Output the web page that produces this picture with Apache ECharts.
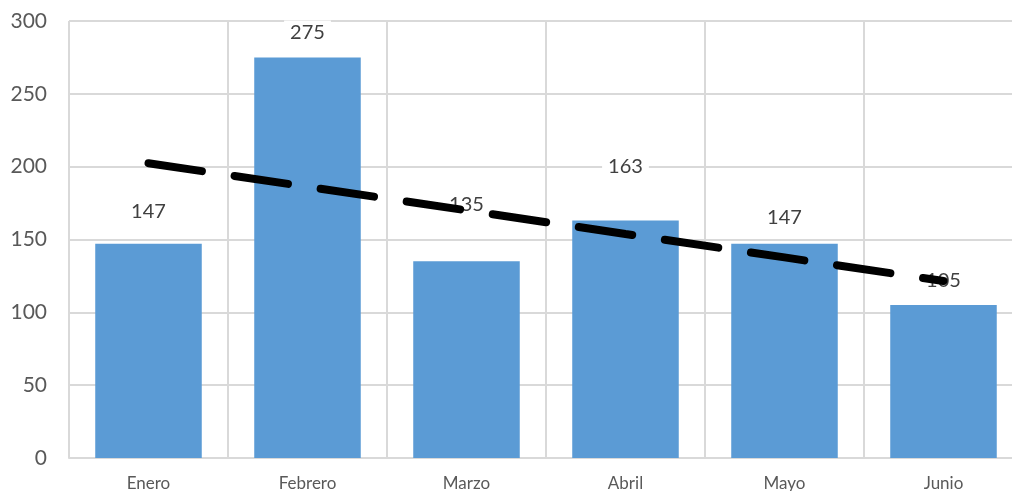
<!DOCTYPE html>
<html>
<head>
<meta charset="utf-8">
<script src="https://cdn.jsdelivr.net/npm/echarts@6/dist/echarts.min.js"></script>
<style>
  html, body { margin: 0; padding: 0; background: #fff; }
  #chart { width: 1012px; height: 491px; }
</style>
</head>
<body>
<div id="chart"></div>
<script>
const months = ['Enero', 'Febrero', 'Marzo', 'Abril', 'Mayo', 'Junio'];
const sales = [147, 275, 135, 163, 147, 105];
// linear trendline as drawn in the picture
const trend = [202.4, 186.2, 170.0, 153.8, 137.7, 121.5];
const yTicks = [0, 50, 100, 150, 200, 250, 300];

// gap between bar top and its label, varies in the original
const labelGap = [20, 13, 45, 42, 14, 13];

const chart = echarts.init(document.getElementById('chart'), null, { renderer: 'canvas' });

const font = 'Lato, "Open Sans", sans-serif';

chart.setOption({
  animation: false,
  // plot runs past the right edge of the picture
  grid: { left: 69, right: -11, top: 21, bottom: 33, outerBoundsMode: 'none', containLabel: false },
  xAxis: {
    type: 'category',
    data: months,
    boundaryGap: true,
    axisLine: { show: true, lineStyle: { color: '#d9d9d9', width: 2 } },
    axisTick: { show: false },
    axisLabel: { color: '#595959', fontSize: 17, fontFamily: font, margin: 17 },
    splitLine: { show: true, lineStyle: { color: '#d9d9d9', width: 2 } }
  },
  yAxis: {
    type: 'value',
    min: yTicks[0],
    max: yTicks[yTicks.length - 1],
    interval: 50,
    axisLine: { show: false },
    axisTick: { show: false },
    axisLabel: { color: '#595959', fontSize: 21, fontFamily: font, margin: 22 },
    splitLine: { lineStyle: { color: '#d9d9d9', width: 2 } }
  },
  series: [
    {
      type: 'bar',
      z: 2,
      barCategoryGap: '33%',
      itemStyle: { color: '#5b9bd5' },
      data: sales.map((v, i) => ({
        value: v,
        label: { distance: labelGap[i] }
      })),
      label: {
        show: true,
        position: 'top',
        color: '#404040',
        fontSize: 20,
        fontFamily: font,
        backgroundColor: '#fff',
        padding: [2, 6]
      }
    },
    {
      type: 'line',
      z: 5,
      data: trend,
      symbol: 'none',
      lineStyle: { color: '#000', width: 8, type: [54, 33], cap: 'round' }
    }
  ]
});
</script>
</body>
</html>
